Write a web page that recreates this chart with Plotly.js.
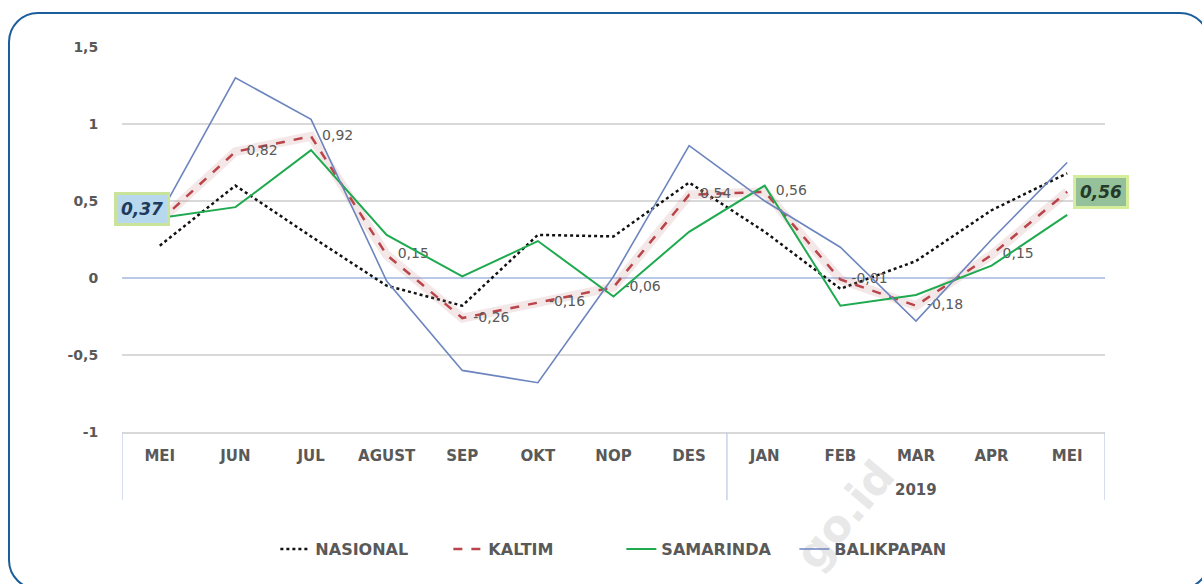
<!DOCTYPE html>
<html>
<head>
<meta charset="utf-8">
<script src="https://cdn.plot.ly/plotly-3.0.1.min.js"></script>
<style>
  html, body { margin:0; padding:0; background:#ffffff; }
  #wrap { position:relative; width:1202px; height:584px; overflow:hidden; background:#ffffff; }
  #frame { position:absolute; left:8px; top:12px; width:1202px; height:578px;
           border:2.5px solid #1b5e9b; border-radius:30px; box-sizing:border-box; }
  #wm { position:absolute; left:845px; top:515px; transform:translate(-50%,-50%) rotate(-50deg);
        font-family:'DejaVu Sans', sans-serif; font-weight:bold; font-size:44px; color:#e8e8e8;
        white-space:nowrap; line-height:1; }
  #chart { position:absolute; left:0; top:0; width:1202px; height:584px; }
</style>
</head>
<body>
<div id="wrap">
  <div id="frame"></div>
  <div id="wm">go.id</div>
  <div id="chart"></div>
</div>
<script>
// ---- data ----
const months = ["MEI","JUN","JUL","AGUST","SEP","OKT","NOP","DES","JAN","FEB","MAR","APR","MEI"];
const yearLabel = "2019";
const nasional   = [0.21, 0.60, 0.27, -0.05, -0.18, 0.28, 0.27, 0.62, 0.30, -0.07, 0.11, 0.44, 0.68];
const kaltim     = [0.37, 0.82, 0.92, 0.15, -0.26, -0.16, -0.06, 0.54, 0.56, -0.01, -0.18, 0.15, 0.56];
const samarinda  = [0.39, 0.46, 0.83, 0.28, 0.01, 0.24, -0.12, 0.30, 0.60, -0.18, -0.11, 0.08, 0.41];
const balikpapan = [0.41, 1.30, 1.03, -0.02, -0.60, -0.68, 0.01, 0.86, 0.50, 0.20, -0.28, 0.25, 0.75];
const yTickVals  = [-1, -0.5, 0, 0.5, 1, 1.5];
const yTickText  = ["-1", "-0,5", "0", "0,5", "1", "1,5"];

const xs = months.map((m, i) => i);
const fmt = v => v.toFixed(2).replace('.', ',');
const kaltimText = kaltim.map((v, i) => (i === 0 || i === kaltim.length - 1) ? "" : fmt(v));

const grey = "#595959";
const fontFam = "'DejaVu Sans', 'Open Sans', sans-serif";

const traces = [
  { x: xs, y: nasional, name: "NASIONAL", mode: "lines",
    line: { color: "#111111", width: 2.5, dash: "dot" } },
  { x: xs, y: kaltim, name: "glow", mode: "lines", showlegend: false, hoverinfo: "skip",
    line: { color: "rgba(192,120,120,0.18)", width: 9 } },
  { x: xs, y: kaltim, name: "KALTIM", mode: "lines+markers+text",
    text: kaltimText, textposition: "middle right",
    marker: { size: 16, color: "rgba(0,0,0,0)" },
    textfont: { family: fontFam, size: 14, color: grey },
    line: { color: "#b9454a", width: 2.5, dash: "dash" } },
  { x: xs, y: samarinda, name: "SAMARINDA", mode: "lines",
    line: { color: "#1faa4f", width: 2 } },
  { x: xs, y: balikpapan, name: "BALIKPAPAN", mode: "lines",
    line: { color: "#6c85be", width: 1.6 } }
];

const last = kaltim.length - 1;
const boxBottom = -0.177;

const layout = {
  width: 1202, height: 584,
  margin: { l: 122, r: 97, t: 47, b: 152 },
  paper_bgcolor: "rgba(0,0,0,0)",
  plot_bgcolor: "rgba(0,0,0,0)",
  font: { family: fontFam, color: grey },
  showlegend: true,
  legend: {
    orientation: "h", x: 0.508, xanchor: "center", y: -0.304, yanchor: "middle",
    font: { family: fontFam, size: 16, color: grey, weight: "bold" },
    itemwidth: 30, tracegroupgap: 0, entrywidth: 128, entrywidthmode: "pixels",
    bgcolor: "rgba(0,0,0,0)"
  },
  xaxis: {
    range: [-0.5, 12.5], tickvals: xs, ticktext: months,
    showgrid: false, zeroline: false,
    showline: true, linecolor: "#d9d9d9", linewidth: 1.5,
    ticks: "outside", ticklen: 9, tickcolor: "rgba(0,0,0,0)",
    tickfont: { family: fontFam, size: 15, color: grey, weight: "bold" },
    fixedrange: true
  },
  yaxis: {
    range: [-1, 1.5], tickvals: yTickVals, ticktext: yTickText,
    showgrid: true, gridcolor: "#d9d9d9", gridwidth: 1.5,
    zeroline: true, zerolinecolor: "#b9c9e6", zerolinewidth: 1.5,
    showline: false,
    ticks: "outside", ticklen: 20, tickcolor: "rgba(0,0,0,0)",
    tickfont: { family: fontFam, size: 14, color: grey, weight: "bold" },
    fixedrange: true
  },
  shapes: [
    { type: "line", xref: "x", yref: "paper", x0: -0.5, x1: -0.5, y0: 0, y1: boxBottom,
      line: { color: "#c8d3e8", width: 1.5 } },
    { type: "line", xref: "x", yref: "paper", x0: 7.5, x1: 7.5, y0: 0, y1: boxBottom,
      line: { color: "#c8d3e8", width: 1.5 } },
    { type: "line", xref: "x", yref: "paper", x0: 12.5, x1: 12.5, y0: 0, y1: boxBottom,
      line: { color: "#c8d3e8", width: 1.5 } }
  ],
  annotations: [
    { x: 10, y: -0.151, xref: "x", yref: "paper", text: yearLabel, showarrow: false,
      xanchor: "center", yanchor: "middle",
      font: { family: fontFam, size: 15, color: grey, weight: "bold" } },
    { x: 0, y: kaltim[0], xref: "x", yref: "y", text: fmt(kaltim[0]), showarrow: false,
      xanchor: "right", yanchor: "middle", xshift: 10, yshift: 12,
      bgcolor: "#b8d8ee", bordercolor: "#c9e39a", borderwidth: 3, borderpad: 4,
      font: { family: fontFam, size: 17, color: "#1f3a5a", weight: "bold", style: "italic" } },
    { x: last, y: kaltim[last], xref: "x", yref: "y", text: fmt(kaltim[last]), showarrow: false,
      xanchor: "left", yanchor: "middle", xshift: 6, yshift: 0,
      bgcolor: "#94c09a", bordercolor: "#d6ee9c", borderwidth: 3, borderpad: 4,
      font: { family: fontFam, size: 17, color: "#243a2a", weight: "bold", style: "italic" } }
  ]
};

Plotly.newPlot("chart", traces, layout, { displayModeBar: false, staticPlot: true });
</script>
</body>
</html>
